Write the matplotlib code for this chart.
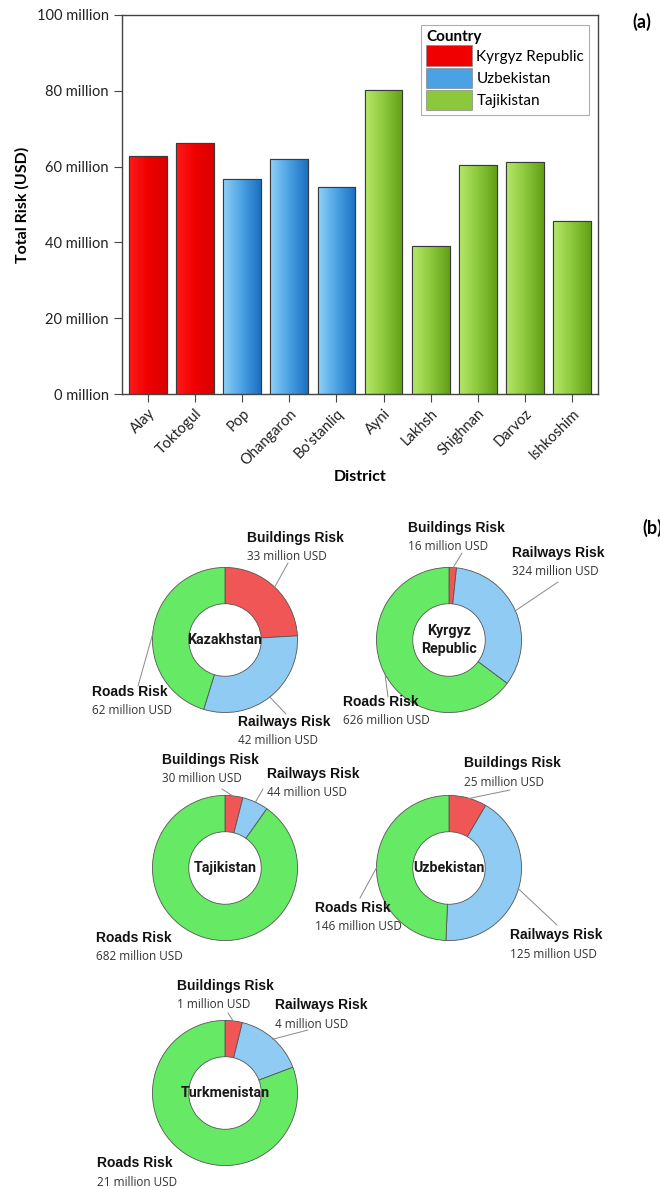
import numpy as np
import matplotlib
matplotlib.use("Agg")
import matplotlib.pyplot as plt
from matplotlib.patches import Patch
from matplotlib.colors import LinearSegmentedColormap

# ---------------- data ----------------
districts = ["Alay", "Toktogul", "Pop", "Ohangaron", "Bo'stanliq",
             "Ayni", "Lakhsh", "Shighnan", "Darvoz", "Ishkoshim"]
district_country = ["Kyrgyz Republic", "Kyrgyz Republic", "Uzbekistan", "Uzbekistan",
                    "Uzbekistan", "Tajikistan", "Tajikistan", "Tajikistan",
                    "Tajikistan", "Tajikistan"]
total_risk_million = [62.8, 66.3, 56.8, 61.9, 54.7, 80.3, 39.0, 60.4, 61.3, 45.7]
y_ticks = [0, 20, 40, 60, 80, 100]
y_tick_labels = [f"{v} million" for v in y_ticks]
legend_countries = ["Kyrgyz Republic", "Uzbekistan", "Tajikistan"]

donut_countries = ["Kazakhstan", "Kyrgyz\nRepublic", "Tajikistan", "Uzbekistan", "Turkmenistan"]
risk_types = ["Buildings Risk", "Railways Risk", "Roads Risk"]
buildings_risk = [33, 16, 30, 25, 1]
railways_risk = [42, 324, 44, 125, 4]
roads_risk = [62, 626, 682, 146, 21]

# ---------------- styles ----------------
W, H = 660, 1188
fig = plt.figure(figsize=(W / 100, H / 100), dpi=100)

country_grad = {
    "Kyrgyz Republic": ["#ff1a1a", "#f00000", "#d80000"],
    "Uzbekistan": ["#8fd0f8", "#4aa2e4", "#1d6fc0"],
    "Tajikistan": ["#b6e86a", "#8cc83c", "#62a018"],
}
country_base = {k: v[1] for k, v in country_grad.items()}

bar_font = "Lato"
center_font = "Roboto"

# ---------------- (a) bar chart ----------------
ax = fig.add_axes([122 / W, 1 - 394 / H, 476 / W, 379 / H])
x = np.arange(len(districts))
bars = ax.bar(x, total_risk_million, width=0.8,
              color=[country_base[c] for c in district_country],
              edgecolor="#3a3a3a", linewidth=0.8, zorder=2)
grad = np.linspace(0, 1, 64).reshape(1, -1)
for b, c in zip(bars, district_country):
    cmap = LinearSegmentedColormap.from_list("g", country_grad[c])
    x0, w, h = b.get_x(), b.get_width(), b.get_height()
    im = ax.imshow(grad, cmap=cmap, aspect="auto", extent=[x0, x0 + w, 0, h],
                   zorder=2.5, interpolation="bicubic")
    im.set_clip_path(b)
    ax.bar(b.get_x() + w / 2, h, width=w, fill=False,
           edgecolor="#3a3a3a", linewidth=0.8, zorder=3)

ax.set_xlim(-0.55, len(districts) - 0.45)
ax.set_ylim(0, 100)
ax.set_yticks(y_ticks)
ax.set_yticklabels(y_tick_labels, fontfamily=bar_font, fontsize=10.5, color="#222")
ax.set_xticks(x)
ax.set_xticklabels(districts, rotation=45, ha="right", rotation_mode="anchor",
                   fontfamily=bar_font, fontsize=10.5, color="#222")
ax.tick_params(axis="both", direction="out", length=6, width=0.8, color="#444")
ax.tick_params(axis="x", pad=3)
for s in ax.spines.values():
    s.set_color("#444")
    s.set_linewidth(1.0)
ax.set_ylabel("Total Risk (USD)", fontfamily=bar_font, fontweight="bold",
              fontsize=11.5, labelpad=5)
ax.set_xlabel("District", fontfamily=bar_font, fontweight="bold",
              fontsize=11.5, labelpad=2)

handles = [Patch(facecolor=country_base[c], edgecolor="#888", linewidth=0.5, label=c)
           for c in legend_countries]
leg = ax.legend(handles=handles, title="Country", loc="upper right",
                bbox_to_anchor=(0.99, 0.985), frameon=True, fancybox=False,
                prop={"family": bar_font, "size": 11}, handlelength=3.0,
                handleheight=1.7, handletextpad=0.3, labelspacing=0.1,
                borderpad=0.3, alignment="left", borderaxespad=0.3)
leg.get_title().set_fontweight("bold")
leg.get_title().set_fontfamily(bar_font)
leg.get_title().set_fontsize(11)
leg.get_frame().set_edgecolor("#999")
leg.get_frame().set_linewidth(0.8)

fig.text(632 / W, 1 - 22 / H, "(a)", fontsize=13, fontweight="bold",
         fontfamily=bar_font, va="center", ha="left")

# ---------------- (b) donuts ----------------
fig.text(642 / W, 1 - 528 / H, "(b)", fontsize=13, fontweight="bold",
         fontfamily=bar_font, va="center", ha="left")

risk_colors = ["#f05656", "#90cbf3", "#66ea66"]
R = 74
centers = [(225, 640), (449, 640), (225, 868), (449, 868), (225, 1093)]

label_pos = [
    [(247, 538), (238, 722), (92, 692)],
    [(408, 528), (512, 553), (343, 702)],
    [(162, 760), (267, 774), (96, 938)],
    [(464, 763), (510, 935), (315, 908)],
    [(177, 986), (275, 1005), (97, 1163)],
]
leader_end = [
    [(288, 563), (286, 714), (138, 686)],
    [(462, 553), (558, 582), (388, 697)],
    [(222, 789), (263, 789), None],
    [(510, 790), (557, 925), (360, 898)],
    [(228, 1013), (308, 1030), None],
]

for i, (cx, cy) in enumerate(centers):
    dax = fig.add_axes([(cx - R) / W, (H - cy - R) / H, 2 * R / W, 2 * R / H])
    vals = [buildings_risk[i], railways_risk[i], roads_risk[i]]
    wedges, _ = dax.pie(vals, colors=risk_colors, startangle=90, counterclock=False,
                        radius=1.0,
                        wedgeprops=dict(width=0.5, edgecolor="#555", linewidth=0.6))
    dax.set_xlim(-1.02, 1.02)
    dax.set_ylim(-1.02, 1.02)
    dax.set_aspect("equal")
    dax.axis("off")
    dax.text(0, 0, donut_countries[i], ha="center", va="center", fontsize=10.3,
             fontfamily=center_font, fontweight="bold",
             color="#1a1a1a", linespacing=1.4)
    for j, w in enumerate(wedges):
        ang = np.deg2rad((w.theta1 + w.theta2) / 2)
        end = leader_end[i][j]
        if end is not None:
            dax.annotate("", xy=(np.cos(ang) * 0.99, np.sin(ang) * 0.99),
                         xytext=(end[0], H - end[1]), textcoords="figure pixels",
                         arrowprops=dict(arrowstyle="-", color="#888", lw=0.7,
                                         shrinkA=0, shrinkB=0),
                         annotation_clip=False)
        lx, ly = label_pos[i][j]
        fig.text(lx / W, 1 - ly / H, risk_types[j], fontsize=10, fontweight="bold",
                 fontfamily="Liberation Sans", va="center", ha="left", color="#111")
        fig.text(lx / W, 1 - (ly + 19) / H, f"{vals[j]} million USD", fontsize=8.5,
                 fontfamily="Open Sans", va="center", ha="left", color="#333")

fig.savefig("out.png", dpi=100, facecolor="white")
